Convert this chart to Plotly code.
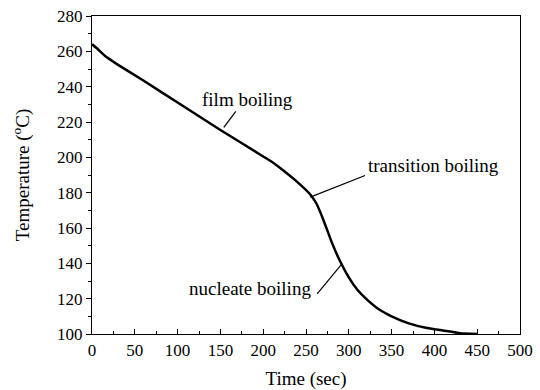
import plotly.graph_objects as go

time_s = [0, 5, 15, 30, 60, 100, 150, 200, 210, 225, 240, 255, 262, 270, 280, 290, 300, 310, 320, 335, 350, 370, 390, 410, 430, 450]
temp_c = [264, 262, 257.5, 252.5, 243.5, 231, 215.5, 200.5, 197.5, 192, 186, 179, 174, 165, 152, 141, 132, 125, 120, 114, 110, 106, 103.5, 102, 100.5, 100]

labels = ["film boiling", "transition boiling", "nucleate boiling"]
label_pos = [(182, 232.5), (399, 195.5), (184, 125.5)]
arrow_tip = [(154, 217), (255, 177.5), (292, 139.7)]
arrow_tail = [(168, 226), (319, 189.7), (263, 122.7)]

font_family = "Times New Roman, Liberation Serif, serif"

fig = go.Figure()
fig.add_trace(go.Scatter(x=time_s, y=temp_c, mode="lines",
                         line=dict(color="black", width=2.5, shape="spline", smoothing=0.4),
                         showlegend=False, hoverinfo="skip"))

for txt, (lx, ly) in zip(labels, label_pos):
    fig.add_annotation(x=lx, y=ly, text=txt, showarrow=False,
                       font=dict(family=font_family, size=19, color="black"))
for (tx, ty), (ax, ay) in zip(arrow_tip, arrow_tail):
    fig.add_shape(type="line", x0=ax, y0=ay, x1=tx, y1=ty, xref="x", yref="y",
                  line=dict(color="black", width=1.2))

axis_common = dict(showgrid=False, zeroline=False, showline=True, linecolor="black",
                   linewidth=1.2, mirror=True, tickwidth=1, tickcolor="black", automargin=False,
                   tickfont=dict(family=font_family, size=17, color="black"))

fig.update_xaxes(range=[0, 500], dtick=50, tick0=0, ticks="inside", ticklen=5,
                 minor=dict(dtick=25, ticks="inside", ticklen=3, tickcolor="black"),
                 title=dict(text="Time (sec)", font=dict(family=font_family, size=19, color="black"), standoff=18),
                 **axis_common)
fig.update_yaxes(range=[100, 280], dtick=20, tick0=100, ticks="outside", ticklen=5,
                 minor=dict(dtick=10, ticks="outside", ticklen=3, tickcolor="black"),
                 title=dict(text="Temperature (<sup>o</sup>C)", font=dict(family=font_family, size=19, color="black"), standoff=22),
                 **axis_common)

fig.update_layout(width=540, height=390, margin=dict(l=92, r=20, t=16, b=56),
                  plot_bgcolor="white", paper_bgcolor="white",
                  font=dict(family=font_family, color="black"))

fig.write_html("out.html")
